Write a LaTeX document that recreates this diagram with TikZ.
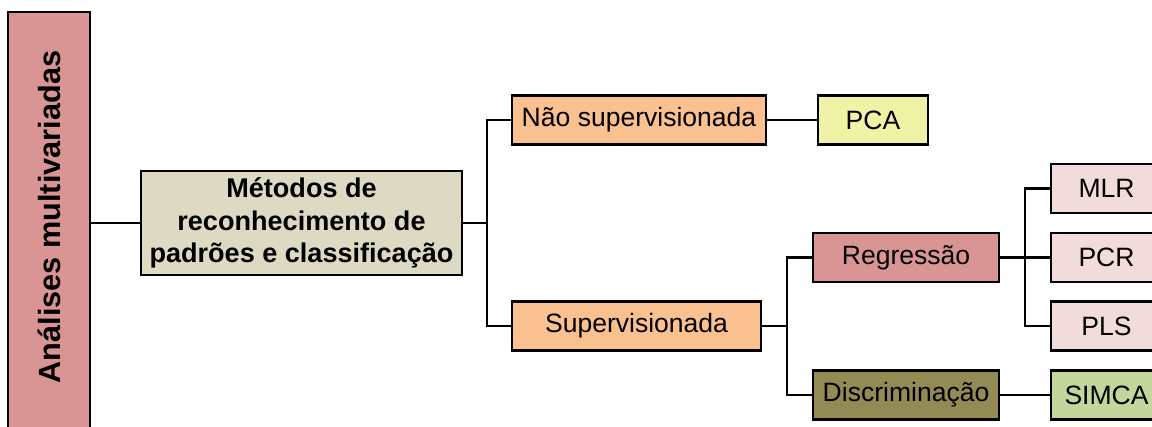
\documentclass[tikz,border=0pt]{standalone}
\usepackage{fontspec}
\setmainfont{Liberation Sans}
\definecolor{cpink}{HTML}{D99594}
\definecolor{ctan}{HTML}{DDD9C3}
\definecolor{corange}{HTML}{FAC090}
\definecolor{cyellow}{HTML}{F0F2A6}
\definecolor{clpink}{HTML}{F2DCDB}
\definecolor{colive}{HTML}{948A54}
\definecolor{cgreen}{HTML}{C3D69B}
\begin{document}
\begin{tikzpicture}[x=0.75pt,y=-0.75pt,
  box/.style={draw=black,line width=2.1pt,inner sep=0pt,minimum height=49*0.75pt,
    font=\fontsize{19.9}{24}\selectfont,align=center},
  conn/.style={draw=black,line width=2pt}]
\useasboundingbox (0,0) rectangle (1152,427);
\begin{scope}
\clip (0,0) rectangle (1152,427);
\node[box,fill=cpink,minimum width=82*0.75pt,minimum height=420*0.75pt] (am) at (49,222) {};
\node[rotate=90,font=\bfseries\fontsize{23}{27}\selectfont] (amt) at (49,217) {Análises multivariadas};
\node[box,fill=ctan,minimum width=321*0.75pt,minimum height=104*0.75pt,font=\bfseries\fontsize{20.3}{24.5}\selectfont] (met) at (301.5,223) {Métodos de\\reconhecimento de\\padrões e classificação};
\node[box,fill=corange,minimum width=254*0.75pt] (nao) at (639,120) {Não supervisionada};
\node[box,fill=cyellow,minimum width=110*0.75pt] (pca) at (873,120) {PCA};
\node[box,fill=corange,minimum width=249*0.75pt] (sup) at (636.5,326) {Supervisionada};
\node[box,fill=cpink,minimum width=186*0.75pt] (reg) at (906,257.5) {Regressão};
\node[box,fill=colive,minimum width=186*0.75pt] (dis) at (906,395) {Discriminação};
\node[box,fill=clpink,minimum width=111*0.75pt] (mlr) at (1106.5,188.5) {MLR};
\node[box,fill=clpink,minimum width=111*0.75pt] (pcr) at (1106.5,257.5) {PCR};
\node[box,fill=clpink,minimum width=111*0.75pt] (pls) at (1106.5,326) {PLS};
\node[box,fill=cgreen,minimum width=111*0.75pt] (sim) at (1106.5,395) {SIMCA};
\coordinate (b1) at (487,223);
\coordinate (b2) at (787,326);
\coordinate (b3) at (1025,257.5);
\draw[conn] (am.east |- met.west) -- (met.west);
\draw[conn] (met.east) -- (b1);
\draw[conn] (b1) |- (nao.west);
\draw[conn] (b1) |- (sup.west);
\draw[conn] (nao.east) -- (pca.west);
\draw[conn] (sup.east) -- (b2);
\draw[conn] (b2) |- (reg.west);
\draw[conn] (b2) |- (dis.west);
\draw[conn] (dis.east) -- (sim.west);
\draw[conn] (reg.east) -- (pcr.west);
\draw[conn] (b3) |- (mlr.west);
\draw[conn] (b3) |- (pls.west);
\end{scope}
\end{tikzpicture}
\end{document}
